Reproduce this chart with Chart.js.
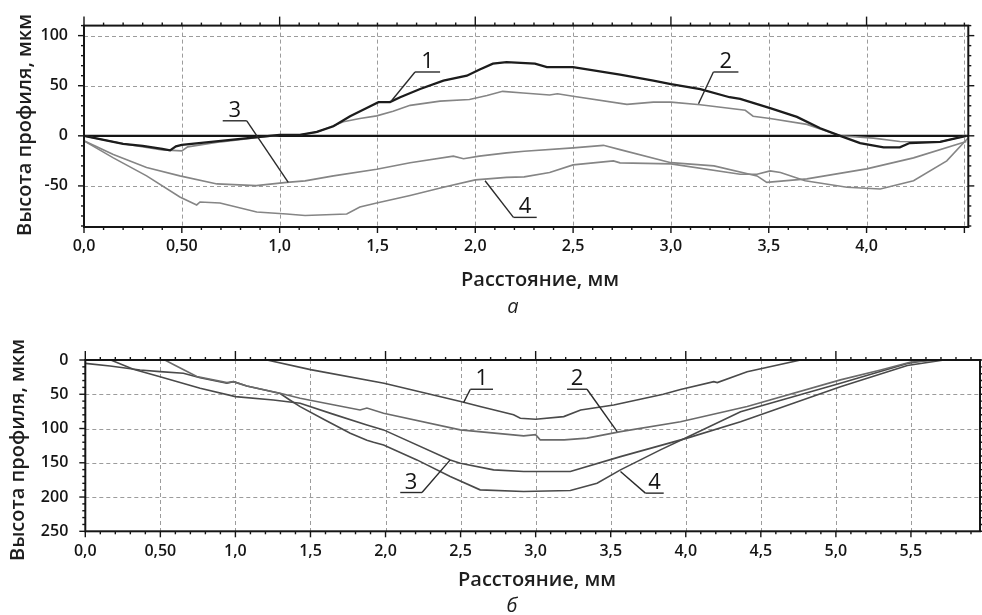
<!DOCTYPE html>
<html><head><meta charset="utf-8">
<script src="https://cdn.jsdelivr.net/npm/chart.js@4/dist/chart.umd.min.js"></script>
<style>
html,body{margin:0;padding:0;background:#fff;width:982px;height:615px;overflow:hidden}
.box{position:absolute;left:0;width:982px}
#wa{top:0;height:330px}
#wb{top:330px;height:285px}
canvas{display:block}
</style></head><body>
<div class="box" id="wa"><canvas id="ca" width="982" height="330"></canvas></div>
<div class="box" id="wb"><canvas id="cb" width="982" height="285"></canvas></div>
<script>
// ---------- panel а : tick values / labels ----------
const xTicksA = [0, 0.5, 1, 1.5, 2, 2.5, 3, 3.5, 4, 4.5];
const xTickLabelsA = ['0,0', '0,50', '1,0', '1,5', '2,0', '2,5', '3,0', '3,5', '4,0', ''];
const yTicksA = [-50, 0, 50, 100];
const yTickLabelsA = ['-50', '0', '50', '100'];

// ---------- panel а : series (distance mm, height µm) ----------
const a1X = [0, 0.1, 0.2, 0.3, 0.4, 0.44, 0.47, 0.5, 0.7, 0.9, 1.0, 1.104, 1.19, 1.275, 1.36, 1.445, 1.505, 1.564, 1.616, 1.718, 1.837, 1.957, 2.02, 2.09, 2.16, 2.305, 2.366, 2.5, 2.74, 2.91, 3.0, 3.15, 3.3, 3.354, 3.507, 3.644, 3.763, 3.865, 3.967, 4.087, 4.17, 4.22, 4.376, 4.51];
const a1Y = [0, -4, -8, -10, -13, -14.5, -10.5, -9, -5, -1, 1, 1, 4, 9.5, 19.6, 27.7, 33.6, 33.6, 38.5, 46.7, 55, 60, 66, 72, 73.5, 72, 68.5, 68.5, 61, 55, 51.6, 46.7, 38.5, 36.9, 27.7, 18.9, 7.5, 0, -7.2, -11.5, -11.5, -7.2, -6, 0];

const a2X = [0, 0.2, 0.4, 0.5, 0.53, 0.7, 0.9, 1.0, 1.104, 1.19, 1.326, 1.41, 1.496, 1.58, 1.667, 1.82, 1.97, 2.06, 2.14, 2.245, 2.38, 2.42, 2.5, 2.775, 2.91, 3.0, 3.15, 3.38, 3.42, 3.507, 3.695, 3.865, 4.035, 4.17, 4.376, 4.51];
const a2Y = [0, -8, -14, -15, -11, -6, -1.5, 0.5, 1, 3.5, 14, 17.3, 19.9, 24.5, 30.4, 34.6, 36.3, 40.2, 44.4, 42.8, 40.8, 42, 39.5, 31.4, 33.6, 33.6, 31, 25.5, 19.6, 17.3, 11.4, 0, -2.3, -5.6, -6, 0];

const a3X = [0, 0.15, 0.32, 0.49, 0.68, 0.88, 1.036, 1.13, 1.275, 1.496, 1.667, 1.888, 1.94, 2.02, 2.16, 2.25, 2.5, 2.655, 2.74, 3.0, 3.22, 3.44, 3.49, 3.695, 4.0, 4.24, 4.51];
const a3Y = [-5, -18.6, -31.7, -40, -48, -49.7, -46.5, -45, -40, -33.4, -26.8, -20.3, -22.9, -20.3, -17, -15.4, -12, -9.5, -13.8, -26.8, -30, -40, -46.5, -43, -33, -22, -5.6];

const a4X = [0, 0.15, 0.32, 0.49, 0.576, 0.593, 0.695, 0.883, 1.036, 1.13, 1.343, 1.41, 1.496, 1.667, 1.837, 2.0, 2.16, 2.25, 2.38, 2.5, 2.706, 2.74, 3.0, 3.354, 3.44, 3.507, 3.56, 3.686, 3.9, 4.07, 4.24, 4.41, 4.52];
const a4Y = [-5, -22, -40, -61, -69, -66, -67, -76, -78, -79.5, -78, -71, -67, -59.5, -51.3, -44, -41.5, -41, -36.6, -29, -25, -27, -28, -38.3, -38.3, -35, -36.6, -44.8, -51.3, -53, -44.8, -25, -2];

// ---------- panel б : tick values / labels ----------
const xTicksB = [0, 0.5, 1, 1.5, 2, 2.5, 3, 3.5, 4, 4.5, 5, 5.5];
const xTickLabelsB = ['0,0', '0,50', '1,0', '1,5', '2,0', '2,5', '3,0', '3,5', '4,0', '4,5', '5,0', '5,5'];
const yTicksB = [0, 50, 100, 150, 200, 250];
const yTickLabelsB = ['0', '50', '100', '150', '200', '250'];

// ---------- panel б : series ----------
const b1X = [1.21, 1.5, 1.99, 2.5, 2.63, 2.853, 2.898, 3.0, 3.187, 3.3, 3.52, 3.85, 3.965, 4.187, 4.21, 4.409, 4.765];
const b1Y = [0, 14, 34, 60.7, 68, 80, 85, 86.5, 82.6, 72.9, 65.6, 50, 43, 31.6, 33, 17, 0];

const b2X = [0.53, 0.6, 0.743, 0.943, 0.987, 1.076, 1.298, 1.431, 1.6, 1.83, 1.876, 1.987, 2.498, 2.92, 3.0, 3.03, 3.19, 3.342, 3.565, 3.965, 4.409, 5.03, 5.298, 5.5, 5.7];
const b2Y = [0, 8, 24, 33, 31.6, 37.9, 48.6, 55.9, 63, 72.9, 70, 77.7, 102, 110.8, 109, 116.6, 116.6, 114, 104.5, 90, 68, 29, 14.6, 3, 0];

const b3X = [0.17, 0.32, 0.498, 0.765, 1.0, 1.253, 1.431, 1.65, 1.876, 1.987, 2.431, 2.498, 2.72, 2.92, 3.231, 3.565, 4.009, 4.365, 5.03, 5.476, 5.72];
const b3Y = [0, 13.6, 24.3, 41.3, 53.4, 58.3, 63.2, 79, 94.8, 102, 145.8, 150.7, 160.3, 162.8, 162.8, 141, 114, 90, 39, 8, 0];

const b4X = [0, 0.165, 0.365, 0.498, 0.653, 0.765, 0.943, 0.987, 1.076, 1.298, 1.36, 1.431, 1.6, 1.765, 1.876, 1.92, 1.987, 2.209, 2.431, 2.63, 2.92, 3.231, 3.409, 3.565, 3.831, 4.009, 4.365, 5.03, 5.476, 5.62];
const b4Y = [4.9, 8.7, 14.6, 17, 19.4, 26, 34, 31.6, 37.9, 49, 58, 68, 88, 106.9, 117, 120, 123.9, 145.8, 170, 189.5, 192, 190.5, 179.8, 160.3, 131.2, 112.7, 75.4, 34, 5, 0];

// ---------- curve number call-outs (data units) ----------
const annA = {
  text: ['1', '2', '3', '4'],
  lineX0: [1.692, 3.217, 0.709, 2.195],
  lineX1: [1.82, 3.345, 0.832, 2.314],
  lineY: [63.7, 63.7, 15, -81.4],
  pointX: [1.573, 3.141, 1.044, 2.05],
  pointY: [35.3, 32, -46.5, -44.8],
  fromEnd: ['left', 'left', 'right', 'left']
};
const annB = {
  text: ['1', '2', '3', '4'],
  lineX0: [2.565, 3.209, 2.098, 3.731],
  lineX1: [2.716, 3.342, 2.243, 3.853],
  lineY: [42.7, 42.7, 193.4, 194.3],
  pointX: [2.52, 3.543, 2.431, 3.565],
  pointY: [62.2, 104.5, 145.8, 162.8],
  fromEnd: ['left', 'right', 'right', 'left']
};

const FONT = "'Open Sans', 'DejaVu Sans', sans-serif";
const INK = '#151515';

function pts(xs, ys) { return xs.map((x, i) => ({ x: x, y: ys[i] })); }

function decorPlugin(cfg) {
  return {
    id: 'decor',
    beforeDatasetsDraw(chart) {
      const { ctx, chartArea: a, scales: { x, y } } = chart;
      ctx.save();
      ctx.strokeStyle = '#9c9c9c';
      ctx.lineWidth = 1;
      ctx.setLineDash([4, 3]);
      cfg.gridX.forEach(v => {
        const px = Math.round(x.getPixelForValue(v)) + 0.5;
        ctx.beginPath(); ctx.moveTo(px, a.top); ctx.lineTo(px, a.bottom); ctx.stroke();
      });
      cfg.gridY.forEach(v => {
        const py = Math.round(y.getPixelForValue(v)) + 0.5;
        ctx.beginPath(); ctx.moveTo(a.left, py); ctx.lineTo(a.right, py); ctx.stroke();
      });
      ctx.setLineDash([]);
      if (cfg.zeroLine) {
        const py = y.getPixelForValue(0);
        ctx.strokeStyle = INK; ctx.lineWidth = 2.2;
        ctx.beginPath(); ctx.moveTo(a.left, py); ctx.lineTo(a.right, py); ctx.stroke();
      }
      ctx.restore();
    },
    afterDatasetsDraw(chart) {
      const { ctx, chartArea: a, scales: { x, y } } = chart;
      ctx.save();
      ctx.strokeStyle = INK; ctx.lineWidth = 2;
      ctx.strokeRect(a.left, a.top, a.right - a.left, a.bottom - a.top);
      ctx.lineWidth = 1.4;
      const xmin = x.min, xmax = x.max;
      for (let k = Math.ceil(xmin * 10 - 1e-6); k <= Math.floor(xmax * 10 + 1e-6); k++) {
        const px = x.getPixelForValue(k / 10);
        const major = k % 5 === 0, integer = k % 10 === 0;
        const lb = major ? 6 : 3;
        const lt = integer ? 9 : 3;
        ctx.beginPath(); ctx.moveTo(px, a.bottom); ctx.lineTo(px, a.bottom + lb); ctx.stroke();
        ctx.beginPath(); ctx.moveTo(px, a.top); ctx.lineTo(px, a.top - lt); ctx.stroke();
      }
      const ylo = Math.min(y.min, y.max), yhi = Math.max(y.min, y.max);
      for (let k = Math.ceil(ylo / 10 - 1e-6); k <= Math.floor(yhi / 10 + 1e-6); k++) {
        const py = y.getPixelForValue(k * 10);
        const l = k % 5 === 0 ? 6 : 3;
        ctx.beginPath(); ctx.moveTo(a.left, py); ctx.lineTo(a.left - l, py); ctx.stroke();
        ctx.beginPath(); ctx.moveTo(a.right, py); ctx.lineTo(a.right + l, py); ctx.stroke();
      }
      const an = cfg.ann;
      ctx.strokeStyle = '#2a2a2a'; ctx.lineWidth = 1.4;
      ctx.fillStyle = INK;
      ctx.font = '22px ' + FONT;
      ctx.textAlign = 'center'; ctx.textBaseline = 'alphabetic';
      an.text.forEach((t, i) => {
        const x0 = x.getPixelForValue(an.lineX0[i]);
        const x1 = x.getPixelForValue(an.lineX1[i]);
        const ly = y.getPixelForValue(an.lineY[i]);
        const tx = x.getPixelForValue(an.pointX[i]);
        const ty = y.getPixelForValue(an.pointY[i]);
        const sx = an.fromEnd[i] === 'left' ? x0 : x1;
        ctx.beginPath(); ctx.moveTo(x1, ly); ctx.lineTo(x0, ly); ctx.stroke();
        ctx.beginPath(); ctx.moveTo(sx, ly); ctx.lineTo(tx, ty); ctx.stroke();
        ctx.fillText(t, (x0 + x1) / 2, ly - 4);
      });
      ctx.restore();
    },
    afterDraw(chart) {
      const { ctx } = chart;
      ctx.save();
      ctx.fillStyle = '#1e1e1e';
      ctx.textAlign = 'center'; ctx.textBaseline = 'middle';
      ctx.font = '600 20px ' + FONT;
      ctx.fillText(cfg.xTitle, cfg.xTitlePos[0], cfg.xTitlePos[1]);
      ctx.save();
      ctx.translate(cfg.yTitlePos[0], cfg.yTitlePos[1]);
      ctx.rotate(-Math.PI / 2);
      ctx.fillText(cfg.yTitle, 0, 0);
      ctx.restore();
      ctx.font = 'italic 20px ' + FONT;
      ctx.fillText(cfg.caption, cfg.captionPos[0], cfg.captionPos[1]);
      ctx.restore();
    }
  };
}

function makeChart(canvas, p) {
  return new Chart(canvas, {
    type: 'line',
    data: { datasets: p.series.map(s => ({
      data: pts(s.x, s.y), borderColor: s.color, borderWidth: s.width,
      pointRadius: 0, tension: 0, fill: false
    })) },
    options: {
      responsive: false, animation: false,
      layout: { padding: p.padding },
      plugins: { legend: { display: false }, tooltip: { enabled: false } },
      scales: {
        x: {
          type: 'linear', min: p.xMin, max: p.xMax,
          afterBuildTicks: s => { s.ticks = p.xTicks.map(v => ({ value: v })); },
          afterFit: s => { s.height = p.xAxisH; },
          grid: { display: false, drawTicks: false },
          border: { display: false },
          ticks: { autoSkip: false, maxRotation: 0, minRotation: 0, padding: p.xPad,
            color: INK, font: { family: FONT, size: 16, weight: '600' },
            callback: (v, i) => p.xLabels[i] }
        },
        y: {
          type: 'linear', min: p.yMin, max: p.yMax, reverse: p.reverse,
          afterBuildTicks: s => { s.ticks = p.yTicks.map(v => ({ value: v })); },
          afterFit: s => { s.width = p.yAxisW; },
          grid: { display: false, drawTicks: false },
          border: { display: false },
          ticks: { autoSkip: false, padding: p.yPad, color: INK, font: { family: FONT, size: 16, weight: '600' },
            callback: (v, i) => p.yLabels[i] }
        }
      }
    },
    plugins: [decorPlugin(p.decor)]
  });
}

makeChart(document.getElementById('ca'), {
  series: [
    { x: a1X, y: a1Y, color: '#1c1c1c', width: 2.3 },
    { x: a2X, y: a2Y, color: '#858585', width: 1.6 },
    { x: a3X, y: a3Y, color: '#858585', width: 1.6 },
    { x: a4X, y: a4Y, color: '#858585', width: 1.6 }
  ],
  padding: { left: 0, top: 22.7, right: 13.7, bottom: 0 },
  xMin: 0, xMax: 4.52, yMin: -91, yMax: 110, reverse: false,
  xTicks: xTicksA, xLabels: xTickLabelsA, yTicks: yTicksA, yLabels: yTickLabelsA,
  xAxisH: 103, yAxisW: 84, xPad: 10, yPad: 16,
  decor: {
    gridX: xTicksA.slice(1), gridY: [-50, 50, 100], zeroLine: true, ann: annA,
    xTitle: 'Расстояние, мм', xTitlePos: [540, 280],
    yTitle: 'Высота профиля, мкм', yTitlePos: [25, 125],
    caption: 'а', captionPos: [513, 307]
  }
});

makeChart(document.getElementById('cb'), {
  series: [
    { x: b1X, y: b1Y, color: '#4a4a4a', width: 1.6 },
    { x: b2X, y: b2Y, color: '#6a6a6a', width: 1.6 },
    { x: b3X, y: b3Y, color: '#4a4a4a', width: 1.6 },
    { x: b4X, y: b4Y, color: '#4a4a4a', width: 1.6 }
  ],
  padding: { left: 0, top: 30, right: 2, bottom: 0 },
  xMin: 0, xMax: 5.96, yMin: 0, yMax: 250, reverse: true,
  xTicks: xTicksB, xLabels: xTickLabelsB, yTicks: yTicksB, yLabels: yTickLabelsB,
  xAxisH: 83.7, yAxisW: 85.3, xPad: 11, yPad: 17,
  decor: {
    gridX: xTicksB.slice(1), gridY: [50, 100, 150, 200], zeroLine: false, ann: annB,
    xTitle: 'Расстояние, мм', xTitlePos: [537, 250],
    yTitle: 'Высота профиля, мкм', yTitlePos: [18, 120],
    caption: 'б', captionPos: [512, 276]
  }
});
</script>
</body></html>
